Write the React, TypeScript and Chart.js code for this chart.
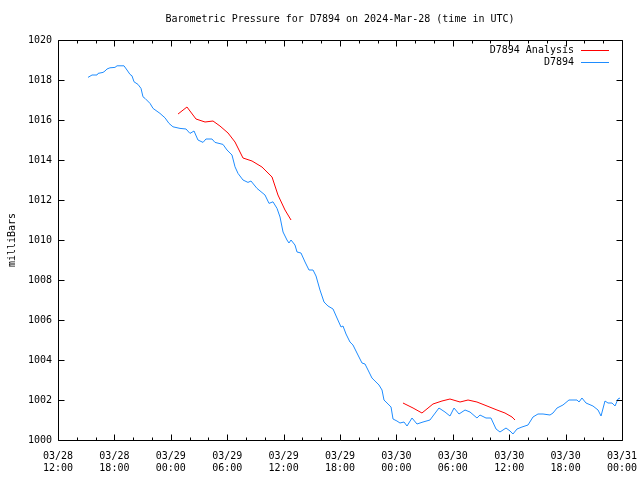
import React, { useEffect, useRef } from "react";
import { Chart, registerables } from "chart.js";
Chart.register(...registerables);

const FONT = "'DejaVu Sans Mono', monospace";
const TITLE = "Barometric Pressure for D7894 on 2024-Mar-28 (time in UTC)";
const Y_TITLE = "milliBars";
const MONTH = "03";
const START_DAY = 28;
const START_HOUR = 12;
const X_MIN = 0;
const X_MAX = 60;
const X_MAJOR = 6;
const X_MINOR = 2;
const Y_MIN = 1000;
const Y_MAX = 1020;
const Y_STEP = 2;

const SERIES_NAMES = ["D7894 Analysis", "D7894"];
const SERIES_COLORS = ["#ff0000", "#1e8cff"];

// hours since 03/28 12:00 UTC
const obsHours = [
  3.19, 3.62, 4.15, 4.26, 4.79, 5.0, 5.21, 5.53, 6.06, 6.28, 7.02, 7.34, 7.66, 7.87, 8.09, 8.51, 8.83, 9.04,
  9.26, 9.79, 10.11, 10.85, 11.38, 11.81, 12.23, 12.98, 13.62, 14.04, 14.47, 14.89, 15.43, 15.74, 16.38, 16.7,
  17.55, 17.98, 18.51, 18.83, 19.15, 19.68, 20.21, 20.53, 21.17, 22.02, 22.45, 22.87, 23.3, 23.62, 23.94, 24.36,
  24.57, 24.79, 25.21, 25.43, 25.85, 26.28, 26.7, 27.13, 27.45, 27.87, 28.3, 28.72, 29.26, 29.68, 30.11, 30.32,
  30.64, 31.06, 31.38, 31.91, 32.34, 32.66, 32.98, 33.4, 33.72, 34.15, 34.47, 34.68, 35.11, 35.43, 35.64, 36.06,
  36.38, 36.81, 37.13, 37.66, 38.19, 38.83, 39.57, 39.89, 40.53, 41.17, 41.7, 42.13, 42.66, 43.3, 43.83, 44.57,
  44.89, 45.53, 46.06, 46.6, 47.02, 47.66, 48.09, 48.4, 48.83, 49.36, 50.0, 50.53, 51.06, 51.6, 52.34, 52.66,
  53.09, 53.72, 54.36, 55.21, 55.43, 55.74, 56.17, 56.91, 57.45, 57.77, 58.19, 58.51, 58.94, 59.26, 59.57, 59.79,
];
const obsValues = [
  1018.13, 1018.25, 1018.25, 1018.33, 1018.38, 1018.45, 1018.55, 1018.61, 1018.63, 1018.71, 1018.71, 1018.5,
  1018.28, 1018.21, 1017.91, 1017.78, 1017.58, 1017.16, 1017.08, 1016.83, 1016.58, 1016.33, 1016.11, 1015.83,
  1015.66, 1015.58, 1015.55, 1015.33, 1015.45, 1015.0, 1014.88, 1015.05, 1015.05, 1014.88, 1014.78, 1014.5,
  1014.25, 1013.66, 1013.33, 1013.0, 1012.88, 1012.95, 1012.58, 1012.25, 1011.83, 1011.91, 1011.58, 1011.15,
  1010.4, 1010.0, 1009.85, 1010.0, 1009.75, 1009.4, 1009.35, 1008.9, 1008.5, 1008.5, 1008.2, 1007.5, 1006.9,
  1006.7, 1006.55, 1006.1, 1005.65, 1005.7, 1005.3, 1004.9, 1004.75, 1004.25, 1003.85, 1003.8, 1003.5, 1003.1,
  1002.95, 1002.75, 1002.5, 1002.0, 1001.8, 1001.65, 1001.05, 1000.95, 1000.85, 1000.9, 1000.7, 1001.1, 1000.8,
  1000.9, 1001.0, 1001.2, 1001.6, 1001.4, 1001.2, 1001.6, 1001.3, 1001.5, 1001.4, 1001.1, 1001.25, 1001.1,
  1001.1, 1000.55, 1000.4, 1000.6, 1000.45, 1000.3, 1000.55, 1000.65, 1000.75, 1001.15, 1001.3, 1001.3, 1001.25,
  1001.35, 1001.6, 1001.75, 1002.0, 1002.0, 1001.9, 1002.1, 1001.85, 1001.7, 1001.5, 1001.2, 1001.95, 1001.85,
  1001.85, 1001.7, 1002.05, 1002.1,
];

const anaHours = [
  12.77, 13.72, 14.68, 15.64, 16.49, 17.23, 18.09, 18.83, 19.68, 20.64, 21.7, 22.77, 23.4, 24.15, 24.79,
  30.0,
  36.7, 37.77, 38.72, 39.89, 40.85, 41.7, 42.77, 43.62, 44.57, 45.64, 46.7, 47.55, 48.3, 48.62,
];
const anaValues: (number | null)[] = [
  1016.3, 1016.65, 1016.05, 1015.9, 1015.95, 1015.7, 1015.35, 1014.9, 1014.1, 1013.95, 1013.65, 1013.15,
  1012.25, 1011.5, 1011.0,
  null,
  1001.85, 1001.6, 1001.35, 1001.8, 1001.95, 1002.05, 1001.9, 1002.0, 1001.9, 1001.7, 1001.5, 1001.35,
  1001.15, 1001.0,
];

const pad2 = (n: number) => (n < 10 ? "0" + n : String(n));
const xLabel = (v: number) => {
  const t = START_HOUR + v;
  const day = START_DAY + Math.floor(t / 24);
  const hh = t % 24;
  return [`${MONTH}/${day}`, `${pad2(hh)}:00`];
};

const framePlugin = {
  id: "gnuframe",
  afterDatasetsDraw(chart: any) {
    const { ctx, chartArea: a, scales } = chart;
    const xs = scales.x;
    const ys = scales.y;
    const L = Math.round(a.left) + 0.5;
    const R = Math.round(a.right) + 0.5;
    const T = Math.round(a.top) + 0.5;
    const B = Math.round(a.bottom) + 0.5;
    ctx.save();
    ctx.strokeStyle = "#000";
    ctx.lineWidth = 1;
    ctx.beginPath();
    ctx.rect(L, T, R - L, B - T);
    for (let h = X_MIN; h <= X_MAX + 1e-9; h += X_MINOR) {
      const px = Math.round(xs.getPixelForValue(h)) + 0.5;
      const len = h % X_MAJOR === 0 ? 6 : 3;
      ctx.moveTo(px, B);
      ctx.lineTo(px, B - len);
      ctx.moveTo(px, T);
      ctx.lineTo(px, T + len);
    }
    for (let v = Y_MIN; v <= Y_MAX + 1e-9; v += Y_STEP) {
      const py = Math.round(ys.getPixelForValue(v)) + 0.5;
      ctx.moveTo(L, py);
      ctx.lineTo(L + 6, py);
      ctx.moveTo(R, py);
      ctx.lineTo(R - 6, py);
    }
    ctx.stroke();

    ctx.fillStyle = "#000";
    ctx.font = `10px ${FONT}`;
    ctx.textAlign = "center";
    ctx.textBaseline = "middle";
    ctx.fillText(TITLE, (a.left + a.right) / 2, 19);

    chart.data.datasets.forEach((ds: any, i: number) => {
      const y = 50 + i * 12;
      ctx.textAlign = "right";
      ctx.fillStyle = "#000";
      ctx.fillText(ds.label, 574, y);
      ctx.strokeStyle = ds.borderColor;
      ctx.beginPath();
      ctx.moveTo(581, y + 0.5);
      ctx.lineTo(609, y + 0.5);
      ctx.stroke();
    });
    ctx.restore();
  },
};

export default function App() {
  const ref = useRef<HTMLCanvasElement>(null);
  useEffect(() => {
    if (!ref.current) return;
    const chart = new Chart(ref.current, {
      type: "line",
      data: {
        datasets: [
          {
            label: SERIES_NAMES[0],
            data: anaHours.map((h, i) => ({ x: h, y: anaValues[i] })),
            borderColor: SERIES_COLORS[0],
            borderWidth: 1,
            pointRadius: 0,
            spanGaps: false,
            order: 2,
          },
          {
            label: SERIES_NAMES[1],
            data: obsHours.map((h, i) => ({ x: h, y: obsValues[i] })),
            borderColor: SERIES_COLORS[1],
            borderWidth: 1,
            pointRadius: 0,
            order: 1,
          },
        ],
      },
      options: {
        animation: false,
        responsive: false,
        layout: { padding: { top: 40, right: 18, left: 0, bottom: 0 } },
        plugins: {
          legend: { display: false },
          title: { display: false },
          tooltip: { enabled: false },
        },
        scales: {
          x: {
            type: "linear",
            min: X_MIN,
            max: X_MAX,
            grid: { display: false, drawTicks: false },
            border: { display: false },
            ticks: {
              stepSize: X_MAJOR,
              autoSkip: false,
              maxRotation: 0,
              padding: 10,
              color: "#000",
              font: { family: FONT, size: 10 },
              callback: (v: any) => xLabel(Number(v)),
            },
            afterFit: (s: any) => {
              s.height = 40;
              s.paddingLeft = 0;
              s.paddingRight = 0;
            },
          },
          y: {
            min: Y_MIN,
            max: Y_MAX,
            grid: { display: false, drawTicks: false },
            border: { display: false },
            ticks: {
              stepSize: Y_STEP,
              padding: 6,
              color: "#000",
              font: { family: FONT, size: 10 },
              callback: (v: any) => String(v),
            },
            title: {
              display: true,
              text: Y_TITLE,
              color: "#000",
              font: { family: FONT, size: 10 },
              padding: { top: 6, bottom: 0 },
            },
            afterFit: (s: any) => {
              s.width = 58;
              s.paddingTop = 0;
              s.paddingBottom = 0;
            },
          },
        },
      },
      plugins: [framePlugin],
    });
    return () => chart.destroy();
  }, []);
  return (
    <div style={{ position: "absolute", left: 0, top: 0, width: 640, height: 480, background: "#fff" }}>
      <canvas ref={ref} width={640} height={480} />
    </div>
  );
}
